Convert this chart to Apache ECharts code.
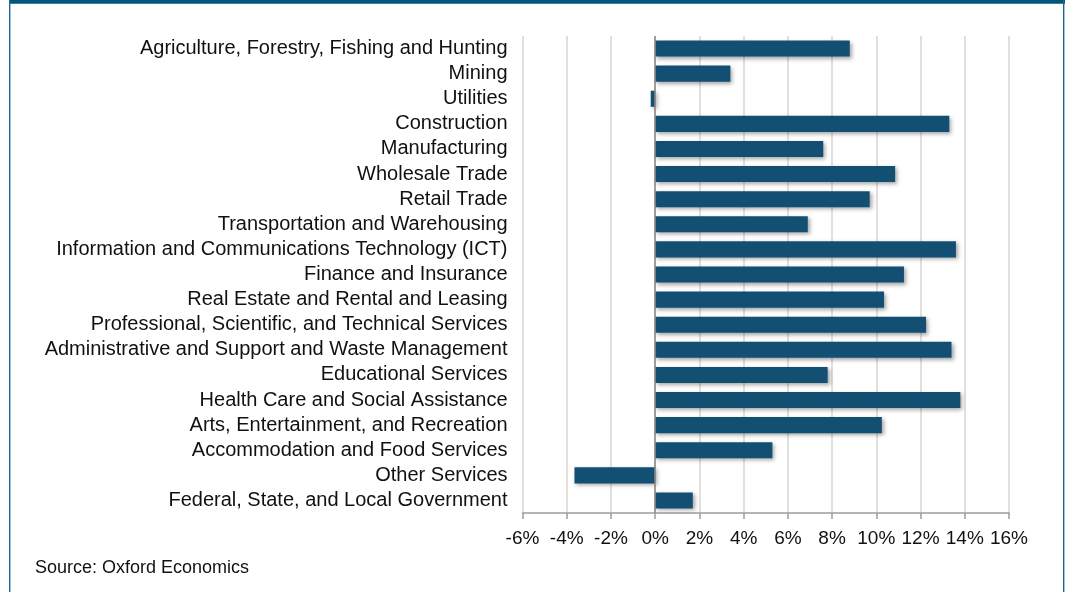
<!DOCTYPE html>
<html>
<head>
<meta charset="utf-8">
<script src="https://cdn.jsdelivr.net/npm/echarts@6/dist/echarts.min.js"></script>
<style>
  html, body { margin: 0; padding: 0; background: #ffffff; }
  #chart { width: 1067px; height: 592px; }
</style>
</head>
<body>
<div id="chart"></div>
<script>
// Industry categories, top to bottom
const industries = [
  'Agriculture, Forestry, Fishing and Hunting',
  'Mining',
  'Utilities',
  'Construction',
  'Manufacturing',
  'Wholesale Trade',
  'Retail Trade',
  'Transportation and Warehousing',
  'Information and Communications Technology (ICT)',
  'Finance and Insurance',
  'Real Estate and Rental and Leasing',
  'Professional, Scientific, and Technical Services',
  'Administrative and Support and Waste Management',
  'Educational Services',
  'Health Care and Social Assistance',
  'Arts, Entertainment, and Recreation',
  'Accommodation and Food Services',
  'Other Services',
  'Federal, State, and Local Government'
];

// Percentage change by industry
const growthPct = [
  8.8, 3.4, -0.2, 13.3, 7.6, 10.85, 9.7, 6.9, 13.6, 11.25,
  10.35, 12.25, 13.4, 7.8, 13.8, 10.25, 5.3, -3.65, 1.7
];

// Value axis range and step, in percent
const axisMin = -6;
const axisMax = 16;
const axisStep = 2;

const sourceNote = 'Source: Oxford Economics';

const chart = echarts.init(document.getElementById('chart'), null, { renderer: 'canvas' });

const fontFamily = 'Liberation Sans, Arial, Helvetica, sans-serif';

chart.setOption({
  backgroundColor: '#ffffff',
  animation: false,
  grid: { left: 522.5, right: 58, top: 36, bottom: 79, containLabel: false },
  xAxis: {
    type: 'value',
    min: axisMin,
    max: axisMax,
    interval: axisStep,
    axisLine: { show: true, onZero: false, lineStyle: { color: '#a09d9a', width: 1.5 } },
    axisTick: { show: true, length: 6, lineStyle: { color: '#a09d9a', width: 1.5 } },
    axisLabel: {
      formatter: '{value}%',
      color: '#111111',
      fontSize: 19,
      fontFamily: fontFamily,
      margin: 16,
      hideOverlap: false
    },
    splitLine: { show: true, lineStyle: { color: '#d9d5d0', width: 1.5 } }
  },
  yAxis: {
    type: 'category',
    data: industries,
    inverse: true,
    axisLine: { show: false, onZero: false },
    axisTick: { show: false },
    axisLabel: {
      interval: 0,
      hideOverlap: false,
      color: '#111111',
      fontSize: 20,
      fontFamily: fontFamily,
      margin: 15
    }
  },
  series: [{
    type: 'bar',
    data: growthPct,
    barCategoryGap: '36%',
    itemStyle: {
      color: '#134f72',
      shadowColor: 'rgba(0,0,0,0.35)',
      shadowBlur: 4,
      shadowOffsetX: 2,
      shadowOffsetY: 2
    },
    markLine: {
      silent: true,
      symbol: 'none',
      label: { show: false },
      lineStyle: { color: '#8a8784', width: 1.5, type: 'solid' },
      data: [{ xAxis: 0 }]
    }
  }],
  graphic: [
    // frame: heavy top rule plus thin side rules
    { type: 'rect', left: 9, top: 0, shape: { width: 1056, height: 3.7 }, style: { fill: '#03557c' }, silent: true },
    { type: 'rect', left: 9, top: 0, shape: { width: 1.4, height: 592 }, style: { fill: '#1a6a8f' }, silent: true },
    { type: 'rect', left: 1063, top: 0, shape: { width: 1.4, height: 592 }, style: { fill: '#1a6a8f' }, silent: true },
    {
      type: 'text',
      left: 35,
      top: 559,
      style: { text: sourceNote, fill: '#111111', fontSize: 18, fontFamily: fontFamily }
    }
  ]
});
</script>
</body>
</html>
